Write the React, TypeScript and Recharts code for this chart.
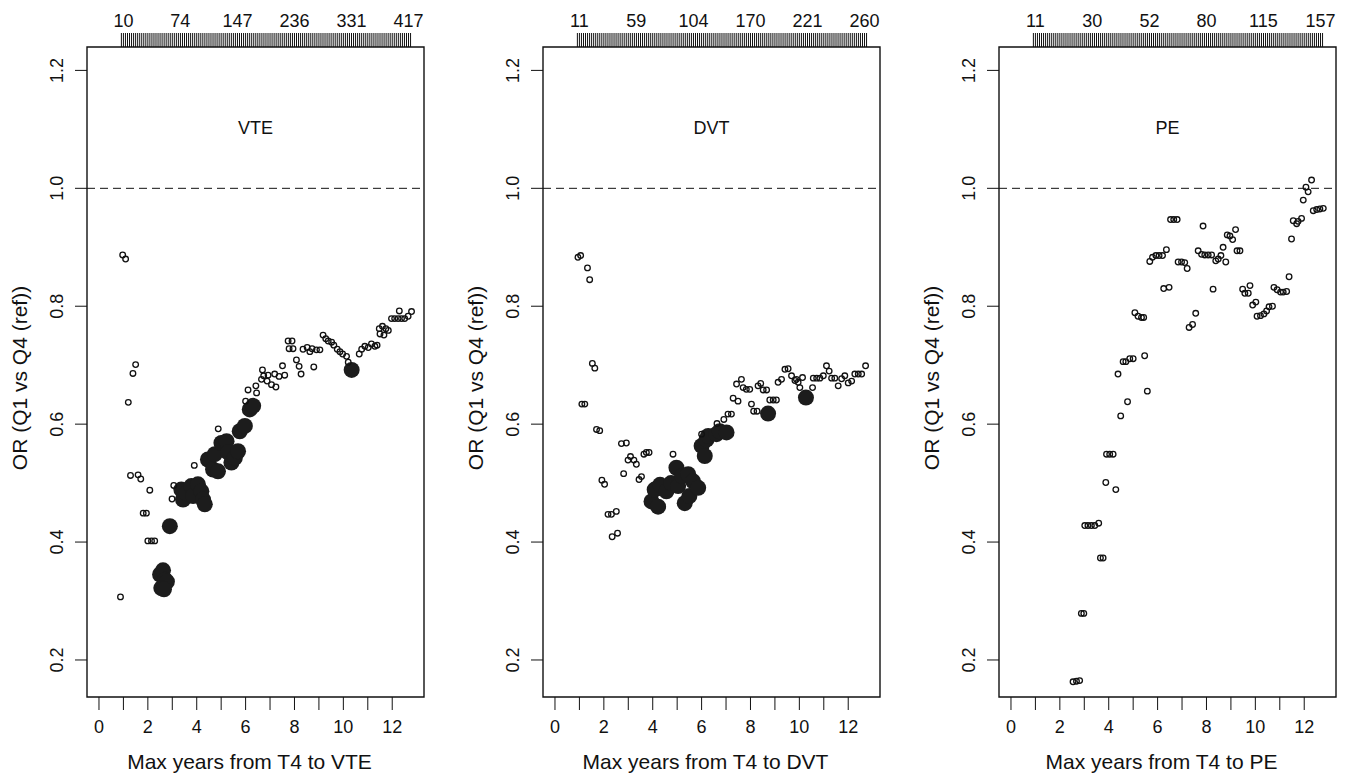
import { ScatterChart, Scatter, XAxis, YAxis, ReferenceLine, ReferenceArea } from "recharts";

type Pt = [number, number];

// [max years from T4, OR]
const vteOpen: Pt[] = [
  [0.88, 0.307], [0.97, 0.887], [1.09, 0.88], [1.2, 0.637], [1.29, 0.513], [1.39, 0.686],
  [1.5, 0.701], [1.6, 0.514], [1.71, 0.507], [1.81, 0.449], [1.94, 0.449], [2.0, 0.402],
  [2.08, 0.488], [2.15, 0.402], [2.28, 0.402], [2.99, 0.473], [3.06, 0.496], [3.9, 0.53],
  [4.88, 0.592], [6.0, 0.639], [6.1, 0.658], [6.42, 0.665], [6.45, 0.653], [6.65, 0.676],
  [6.69, 0.692], [6.74, 0.682], [6.88, 0.673], [6.92, 0.683], [7.06, 0.667], [7.19, 0.685],
  [7.24, 0.663], [7.37, 0.681], [7.51, 0.699], [7.6, 0.683], [7.74, 0.741], [7.78, 0.728],
  [7.9, 0.741], [7.94, 0.728], [8.08, 0.709], [8.19, 0.698], [8.27, 0.685], [8.35, 0.727],
  [8.52, 0.73], [8.63, 0.723], [8.72, 0.728], [8.79, 0.697], [8.9, 0.726], [9.04, 0.726],
  [9.17, 0.751], [9.28, 0.745], [9.38, 0.741], [9.52, 0.739], [9.61, 0.734], [9.75, 0.727],
  [9.86, 0.723], [9.97, 0.719], [10.13, 0.715], [10.2, 0.705], [10.65, 0.719], [10.75, 0.727],
  [10.88, 0.732], [11.02, 0.73], [11.15, 0.736], [11.29, 0.732], [11.38, 0.734], [11.47, 0.762],
  [11.5, 0.753], [11.6, 0.766], [11.66, 0.751], [11.74, 0.762], [11.84, 0.759], [11.97, 0.779],
  [12.1, 0.779], [12.24, 0.779], [12.29, 0.792], [12.38, 0.779], [12.51, 0.779], [12.65, 0.783],
  [12.79, 0.791],
];
const vteFilled: Pt[] = [
  [2.5, 0.345], [2.62, 0.352], [2.7, 0.336], [2.78, 0.333], [2.55, 0.322], [2.66, 0.32],
  [2.9, 0.427], [3.37, 0.489], [3.44, 0.472], [3.58, 0.483], [3.78, 0.495], [3.85, 0.478],
  [4.05, 0.498], [4.19, 0.486], [4.26, 0.472], [4.33, 0.464], [4.46, 0.54], [4.67, 0.523],
  [4.74, 0.549], [4.87, 0.52], [5.01, 0.568], [5.22, 0.571], [5.28, 0.552], [5.42, 0.535],
  [5.56, 0.543], [5.69, 0.554], [5.76, 0.588], [5.97, 0.597], [6.17, 0.625], [6.31, 0.631],
  [10.34, 0.692],
];
const dvtOpen: Pt[] = [
  [0.94, 0.883], [1.05, 0.886], [1.1, 0.634], [1.22, 0.634], [1.33, 0.865], [1.42, 0.845],
  [1.53, 0.703], [1.63, 0.695], [1.7, 0.591], [1.83, 0.589], [1.92, 0.505], [2.03, 0.498],
  [2.17, 0.447], [2.31, 0.447], [2.34, 0.409], [2.51, 0.452], [2.56, 0.415], [2.72, 0.567],
  [2.81, 0.516], [2.92, 0.568], [2.99, 0.539], [3.09, 0.545], [3.23, 0.539], [3.33, 0.532],
  [3.44, 0.506], [3.54, 0.511], [3.64, 0.549], [3.74, 0.552], [3.85, 0.552], [4.83, 0.549],
  [6.0, 0.583], [6.63, 0.601], [6.91, 0.608], [7.08, 0.617], [7.22, 0.617], [7.29, 0.644],
  [7.43, 0.668], [7.49, 0.639], [7.63, 0.676], [7.7, 0.662], [7.83, 0.659], [7.97, 0.659],
  [8.04, 0.634], [8.13, 0.622], [8.27, 0.622], [8.31, 0.665], [8.42, 0.669], [8.52, 0.658],
  [8.66, 0.658], [8.79, 0.641], [8.93, 0.641], [9.06, 0.641], [9.13, 0.671], [9.27, 0.676],
  [9.41, 0.693], [9.54, 0.694], [9.68, 0.682], [9.82, 0.674], [9.88, 0.676], [9.95, 0.671],
  [10.02, 0.662], [10.13, 0.679], [10.54, 0.662], [10.57, 0.678], [10.71, 0.678], [10.84, 0.678],
  [10.98, 0.682], [11.11, 0.699], [11.22, 0.69], [11.32, 0.678], [11.45, 0.678], [11.59, 0.665],
  [11.73, 0.677], [11.86, 0.682], [12.0, 0.67], [12.14, 0.673], [12.27, 0.685], [12.41, 0.685],
  [12.55, 0.685], [12.71, 0.699],
];
const dvtFilled: Pt[] = [
  [3.95, 0.469], [4.08, 0.489], [4.22, 0.46], [4.3, 0.497], [4.56, 0.486], [4.75, 0.5],
  [4.97, 0.526], [5.04, 0.495], [5.2, 0.512], [5.31, 0.466], [5.45, 0.515], [5.5, 0.478],
  [5.65, 0.503], [5.86, 0.492], [6.0, 0.563], [6.13, 0.546], [6.2, 0.574], [6.27, 0.58],
  [6.61, 0.583], [6.74, 0.588], [7.02, 0.586], [8.72, 0.618], [10.27, 0.645],
];
const peOpen: Pt[] = [
  [2.54, 0.163], [2.68, 0.164], [2.81, 0.165], [2.88, 0.279], [2.98, 0.279], [3.02, 0.428],
  [3.15, 0.428], [3.29, 0.428], [3.43, 0.428], [3.59, 0.432], [3.66, 0.373], [3.77, 0.373],
  [3.88, 0.501], [3.91, 0.549], [4.04, 0.549], [4.18, 0.549], [4.29, 0.489], [4.38, 0.685],
  [4.49, 0.614], [4.59, 0.706], [4.7, 0.706], [4.77, 0.638], [4.86, 0.711], [5.0, 0.711],
  [5.07, 0.789], [5.2, 0.783], [5.34, 0.781], [5.43, 0.781], [5.47, 0.716], [5.58, 0.656],
  [5.68, 0.876], [5.79, 0.883], [5.93, 0.886], [6.06, 0.886], [6.2, 0.886], [6.25, 0.83],
  [6.36, 0.896], [6.47, 0.832], [6.53, 0.947], [6.66, 0.947], [6.8, 0.947], [6.84, 0.875],
  [6.98, 0.875], [7.11, 0.874], [7.21, 0.864], [7.29, 0.764], [7.43, 0.769], [7.56, 0.788],
  [7.66, 0.894], [7.8, 0.888], [7.86, 0.936], [7.93, 0.887], [8.07, 0.887], [8.21, 0.887],
  [8.27, 0.829], [8.38, 0.877], [8.48, 0.88], [8.59, 0.886], [8.68, 0.9], [8.79, 0.875],
  [8.85, 0.921], [8.96, 0.919], [9.07, 0.913], [9.19, 0.93], [9.25, 0.894], [9.37, 0.894],
  [9.48, 0.829], [9.57, 0.822], [9.71, 0.822], [9.78, 0.835], [9.89, 0.802], [10.02, 0.807],
  [10.07, 0.783], [10.21, 0.784], [10.35, 0.787], [10.46, 0.792], [10.56, 0.799], [10.7, 0.8],
  [10.76, 0.832], [10.89, 0.828], [11.03, 0.824], [11.14, 0.824], [11.28, 0.825], [11.38, 0.85],
  [11.48, 0.914], [11.55, 0.945], [11.69, 0.94], [11.75, 0.944], [11.89, 0.949], [11.96, 0.98],
  [12.07, 1.002], [12.16, 0.994], [12.3, 1.014], [12.37, 0.962], [12.51, 0.964], [12.64, 0.965],
  [12.78, 0.966],
];
const peFilled: Pt[] = [];

const xTicks = [0, 1, 2, 3, 4, 5, 6, 7, 8, 9, 10, 11, 12];
const yTicks = [0.2, 0.4, 0.6, 0.8, 1.0, 1.2];
const xDomain: [number, number] = [-0.49, 13.3];
const yDomain: [number, number] = [0.1372, 1.2397];

// rug on the top axis: one tick per month of follow-up
const rugFirstMonth = 11;
const rugLastMonth = 153;
const rugYears: number[] = [];
for (let m = rugFirstMonth; m <= rugLastMonth; m++) rugYears.push(m / 12);

const topYears = [1, 3.33, 5.67, 8, 10.33, 12.67];
const vteTop = ["10", "74", "147", "236", "331", "417"];
const dvtTop = ["11", "59", "104", "170", "221", "260"];
const peTop = ["11", "30", "52", "80", "115", "157"];

const OpenDot = (p: any) => (
  <circle cx={p.cx} cy={p.cy} r={2.8} fill="none" stroke="#111" strokeWidth={1.3} />
);
const FilledDot = (p: any) => <circle cx={p.cx} cy={p.cy} r={8} fill="#1c1c1c" />;
const RugTick = (p: any) => (
  <line x1={p.cx} x2={p.cx} y1={p.cy} y2={p.cy - 14} stroke="#111" strokeWidth={1} />
);
const TopLabel = (p: any) => (
  <text x={p.cx} y={p.cy - 20} textAnchor="middle" fontSize={18} fill="#111">
    {p.payload.label}
  </text>
);
const YTick = (p: any) => (
  <text
    x={p.x}
    y={p.y}
    transform={`rotate(-90, ${p.x}, ${p.y})`}
    textAnchor="middle"
    fontSize={18}
    fill="#111"
  >
    {Number(p.payload.value).toFixed(1)}
  </text>
);

type PanelProps = {
  name: string;
  open: Pt[];
  filled: Pt[];
  top: string[];
  left: number;
};

const Panel = ({ name, open, filled, top, left }: PanelProps) => {
  const openData = open.map(([x, y]) => ({ x, y }));
  const filledData = filled.map(([x, y]) => ({ x, y }));
  const rugData = rugYears.map((x) => ({ x, y: yDomain[1] }));
  const topData = topYears.map((x, i) => ({ x, y: yDomain[1], label: top[i] }));
  return (
    <div style={{ position: "absolute", left, top: 0 }}>
      <ScatterChart width={456} height={773} margin={{ top: 47, right: 32, bottom: 0, left: 0 }}>
        <XAxis
          type="number"
          dataKey="x"
          domain={xDomain}
          ticks={xTicks}
          interval={0}
          height={76}
          axisLine={false}
          tickSize={13}
          tickMargin={10}
          tickLine={{ stroke: "#111" }}
          tick={{ fill: "#111", fontSize: 18 }}
          tickFormatter={(v) => (v % 2 === 0 ? String(v) : "")}
          label={{
            content: (lp: any) => {
              const vb = lp.viewBox || { x: 87, width: 337 };
              const cx = vb.x + vb.width / 2 - 6;
              return (
                <text x={cx} y={769} textAnchor="middle" fontSize={21} fill="#111">
                  {`Max years from T4 to ${name}`}
                </text>
              );
            },
          }}
        />
        <YAxis
          type="number"
          dataKey="y"
          domain={yDomain}
          ticks={yTicks}
          interval={0}
          width={87}
          axisLine={false}
          tickSize={12}
          tickMargin={12}
          tickLine={{ stroke: "#111" }}
          tick={YTick}
          label={{
            content: () => (
              <text
                x={27}
                y={378}
                transform="rotate(-90, 27, 378)"
                textAnchor="middle"
                fontSize={21}
                fill="#111"
              >
                OR (Q1 vs Q4 (ref))
              </text>
            ),
          }}
        />
        <ReferenceLine y={1} stroke="#111" strokeWidth={1} strokeDasharray="8 5" />
        <Scatter data={filledData} shape={FilledDot} isAnimationActive={false} />
        <Scatter data={openData} shape={OpenDot} isAnimationActive={false} />
        <Scatter data={rugData} shape={RugTick} isAnimationActive={false} />
        <Scatter data={topData} shape={TopLabel} isAnimationActive={false} />
        <ReferenceArea
          x1={xDomain[0]}
          x2={xDomain[1]}
          y1={yDomain[0]}
          y2={yDomain[1]}
          fill="none"
          fillOpacity={0}
          stroke="#111"
          strokeWidth={1.4}
          label={{ value: name, position: "insideTop", offset: 74, fontSize: 18, fill: "#111" }}
        />
      </ScatterChart>
    </div>
  );
};

export default function App() {
  return (
    <div
      style={{
        position: "absolute",
        left: 0,
        top: 0,
        width: 1353,
        height: 773,
        overflow: "hidden",
        background: "#fff",
        fontFamily: "'Liberation Sans', Arial, Helvetica, sans-serif",
      }}
    >
      <Panel name="VTE" open={vteOpen} filled={vteFilled} top={vteTop} left={0} />
      <Panel name="DVT" open={dvtOpen} filled={dvtFilled} top={dvtTop} left={456} />
      <Panel name="PE" open={peOpen} filled={peFilled} top={peTop} left={912} />
    </div>
  );
}
